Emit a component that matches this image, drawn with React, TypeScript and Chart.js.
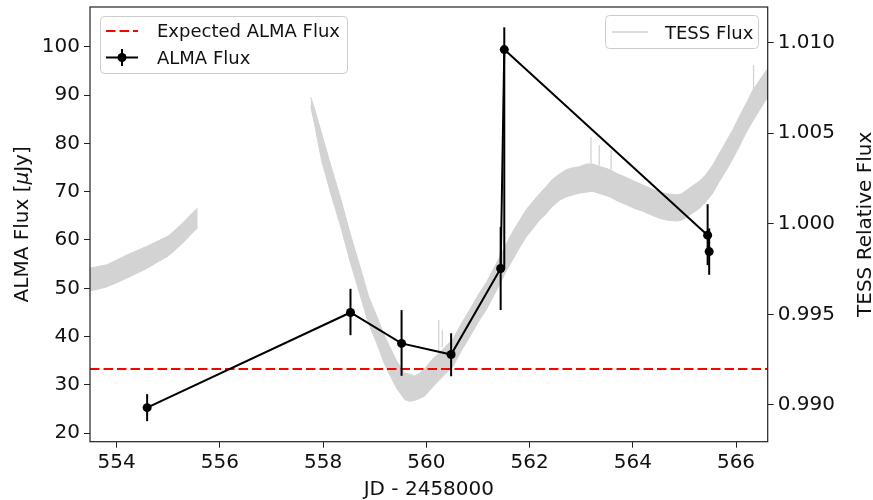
import React, { useEffect, useRef } from 'react';
import { Chart, registerables } from 'chart.js';

Chart.register(...registerables);

// ---------- data ----------
const xRange = [553.483, 566.614];
const leftRange = [18.26, 108.215];
const rightRange = [0.98797, 1.01197];

const xTicks = [554, 556, 558, 560, 562, 564, 566];
const leftTicks = [20, 30, 40, 50, 60, 70, 80, 90, 100];
const rightTicks = [0.99, 0.995, 1.0, 1.005, 1.01];

const almaJD = [554.59, 558.53, 559.52, 560.48, 561.44, 561.51, 565.45, 565.48];
const almaFlux = [25.3, 45.0, 38.6, 36.3, 54.1, 99.4, 61.0, 57.6];
const almaErrLow = [2.8, 4.7, 6.7, 4.5, 8.6, 45.3, 6.2, 4.8];
const almaErrHigh = [2.8, 4.9, 6.9, 4.4, 8.6, 4.6, 6.4, 4.8];

const expectedFlux = 33.3;

const tess1JD = [553.40, 553.48, 553.65, 553.80, 554.00, 554.20, 554.40, 554.60, 554.80, 555.00, 555.15, 555.30, 555.45, 555.57];
const tess1Low = [0.99625, 0.99630, 0.99640, 0.99651, 0.99675, 0.99701, 0.99728, 0.99756, 0.99790, 0.99822, 0.99860, 0.99900, 0.99945, 0.99977];
const tess1High = [0.99750, 0.99755, 0.99765, 0.99773, 0.99800, 0.99828, 0.99853, 0.99878, 0.99905, 0.99933, 0.99970, 1.00010, 1.00055, 1.00087];

const tess2JD = [557.76, 557.84, 557.97, 558.15, 558.34, 558.52, 558.71, 558.88, 559.04, 559.19, 559.31, 559.43, 559.58, 559.68, 559.77, 559.87, 559.97, 560.11, 560.26, 560.38, 560.51, 560.67, 560.84, 561.00, 561.17, 561.29, 561.42, 561.54, 561.67, 561.80, 561.94, 562.07, 562.19, 562.32, 562.44, 562.58, 562.72, 562.85, 562.97, 563.10, 563.22, 563.38, 563.55, 563.71, 563.88, 564.03, 564.19, 564.35, 564.52, 564.68, 564.84, 564.94, 565.04, 565.16, 565.29, 565.41, 565.54, 565.68, 565.81, 565.94, 566.06, 566.19, 566.32, 566.45, 566.57, 566.70];
const tess2Low = [1.00650, 1.00540, 1.00350, 1.00165, 0.99985, 0.99795, 0.99612, 0.99450, 0.99340, 0.99225, 0.99155, 0.99090, 0.99030, 0.99020, 0.99025, 0.99035, 0.99050, 0.99095, 0.99140, 0.99175, 0.99210, 0.99295, 0.99375, 0.99455, 0.99530, 0.99595, 0.99665, 0.99735, 0.99800, 0.99865, 0.99930, 0.99975, 1.00020, 1.00055, 1.00095, 1.00130, 1.00150, 1.00160, 1.00170, 1.00175, 1.00180, 1.00165, 1.00150, 1.00125, 1.00105, 1.00085, 1.00070, 1.00050, 1.00030, 1.00020, 1.00015, 1.00020, 1.00035, 1.00060, 1.00085, 1.00120, 1.00165, 1.00235, 1.00295, 1.00360, 1.00425, 1.00500, 1.00565, 1.00625, 1.00680, 1.00730];
const tess2High = [1.00700, 1.00630, 1.00500, 1.00320, 1.00140, 0.99950, 0.99768, 0.99600, 0.99490, 0.99380, 0.99310, 0.99240, 0.99175, 0.99170, 0.99160, 0.99175, 0.99200, 0.99250, 0.99290, 0.99325, 0.99360, 0.99445, 0.99525, 0.99605, 0.99680, 0.99745, 0.99815, 0.99885, 0.99955, 1.00015, 1.00080, 1.00125, 1.00165, 1.00205, 1.00245, 1.00275, 1.00300, 1.00310, 1.00315, 1.00330, 1.00330, 1.00315, 1.00300, 1.00275, 1.00255, 1.00235, 1.00215, 1.00195, 1.00175, 1.00165, 1.00160, 1.00165, 1.00185, 1.00210, 1.00235, 1.00270, 1.00320, 1.00390, 1.00455, 1.00520, 1.00590, 1.00660, 1.00735, 1.00790, 1.00840, 1.00890];

const spikeJD = [560.24, 560.31, 563.19, 563.35, 563.58, 566.34];
const spikeBase = [0.9930, 0.9932, 1.0032, 1.0032, 1.0030, 1.0072];
const spikeTop = [0.99469, 0.99414, 1.00479, 1.00435, 1.00407, 1.00877];

const FONT = "'DejaVu Sans', sans-serif";
const GRAY = '#d3d3d3';
const AXIS = '#222222';

function pts(xs: number[], ys: number[]) {
  return xs.map((x, i) => ({ x, y: ys[i] }));
}

const customPlugin = {
  id: 'custom',
  afterDatasetsDraw(chart: any) {
    const { ctx, scales } = chart;
    const x = scales.x;
    const y = scales.y;
    ctx.save();
    ctx.strokeStyle = '#000';
    ctx.lineWidth = 2;
    almaJD.forEach((jd, i) => {
      const px = x.getPixelForValue(jd);
      ctx.beginPath();
      ctx.moveTo(px, y.getPixelForValue(almaFlux[i] + almaErrHigh[i]));
      ctx.lineTo(px, y.getPixelForValue(almaFlux[i] - almaErrLow[i]));
      ctx.stroke();
    });
    ctx.restore();
  },
  afterDraw(chart: any) {
    const { ctx, chartArea } = chart;
    const { left, right, top, bottom } = chartArea;
    ctx.save();
    // frame
    ctx.strokeStyle = AXIS;
    ctx.lineWidth = 1.2;
    ctx.strokeRect(left, top, right - left, bottom - top);

    // axis titles
    ctx.fillStyle = '#111';
    ctx.font = `20px ${FONT}`;
    ctx.textAlign = 'center';
    ctx.textBaseline = 'alphabetic';
    ctx.fillText('JD - 2458000', (left + right) / 2, 495);

    const cy = (top + bottom) / 2;
    ctx.save();
    ctx.translate(28, cy);
    ctx.rotate(-Math.PI / 2);
    const parts = [
      { t: 'ALMA Flux [', f: `20px ${FONT}` },
      { t: 'μ', f: `italic 20px ${FONT}` },
      { t: 'Jy]', f: `20px ${FONT}` },
    ];
    let total = 0;
    parts.forEach((p) => { ctx.font = p.f; total += ctx.measureText(p.t).width; });
    let cx = -total / 2;
    ctx.textAlign = 'left';
    parts.forEach((p) => { ctx.font = p.f; ctx.fillText(p.t, cx, 0); cx += ctx.measureText(p.t).width; });
    ctx.restore();

    ctx.save();
    ctx.translate(871, cy);
    ctx.rotate(-Math.PI / 2);
    ctx.font = `20px ${FONT}`;
    ctx.textAlign = 'center';
    ctx.fillText('TESS Relative Flux', 0, 0);
    ctx.restore();

    // legends
    const box = (bx: number, by: number, bw: number, bh: number) => {
      ctx.beginPath();
      (ctx as any).roundRect(bx, by, bw, bh, 4);
      ctx.fillStyle = 'rgba(255,255,255,0.8)';
      ctx.fill();
      ctx.strokeStyle = '#cccccc';
      ctx.lineWidth = 1;
      ctx.stroke();
    };
    box(100.5, 16.5, 247, 57);
    box(605.5, 15.5, 153, 33);

    ctx.font = `18px ${FONT}`;
    ctx.textAlign = 'left';
    ctx.textBaseline = 'alphabetic';
    ctx.strokeStyle = 'red';
    ctx.lineWidth = 2;
    ctx.setLineDash([9.5, 4]);
    ctx.beginPath();
    ctx.moveTo(106, 31);
    ctx.lineTo(138, 31);
    ctx.stroke();
    ctx.setLineDash([]);
    ctx.fillStyle = '#111';
    ctx.fillText('Expected ALMA Flux', 157, 37.4);
    ctx.strokeStyle = '#000';
    ctx.beginPath();
    ctx.moveTo(106, 57.5);
    ctx.lineTo(138, 57.5);
    ctx.moveTo(122, 49);
    ctx.lineTo(122, 66);
    ctx.stroke();
    ctx.beginPath();
    ctx.arc(122, 57.5, 4.5, 0, Math.PI * 2);
    ctx.fillStyle = '#000';
    ctx.fill();
    ctx.fillStyle = '#111';
    ctx.fillText('ALMA Flux', 157, 64.1);
    ctx.strokeStyle = GRAY;
    ctx.lineWidth = 1.5;
    ctx.beginPath();
    ctx.moveTo(612, 32);
    ctx.lineTo(648, 32);
    ctx.stroke();
    ctx.fillStyle = '#111';
    ctx.fillText('TESS Flux', 665, 38.8);
    ctx.restore();
  },
};

export default function App() {
  const ref = useRef<HTMLCanvasElement | null>(null);

  useEffect(() => {
    const canvas = ref.current;
    if (!canvas) return;
    Chart.defaults.font.family = FONT;

    const spikeData: any[] = [];
    spikeJD.forEach((jd, i) => {
      spikeData.push({ x: jd, y: spikeBase[i] });
      spikeData.push({ x: jd, y: spikeTop[i] });
      spikeData.push({ x: jd, y: null });
    });

    const tessCommon = {
      yAxisID: 'y1',
      borderColor: GRAY,
      backgroundColor: GRAY,
      borderWidth: 1,
      pointRadius: 0,
      order: 5,
    };

    const noPad = (s: any) => {
      s.paddingTop = 0;
      s.paddingBottom = 0;
      s.paddingLeft = 0;
      s.paddingRight = 0;
    };

    const chart = new Chart(canvas, {
      type: 'line',
      data: {
        datasets: [
          { ...tessCommon, label: 'TESS Flux', data: pts(tess1JD, tess1Low), fill: false },
          { ...tessCommon, label: 'TESS hi 1', data: pts(tess1JD, tess1High), fill: '-1' },
          { ...tessCommon, label: 'TESS lo 2', data: pts(tess2JD, tess2Low), fill: false },
          { ...tessCommon, label: 'TESS hi 2', data: pts(tess2JD, tess2High), fill: '-1' },
          { ...tessCommon, label: 'spikes', data: spikeData, fill: false, spanGaps: false, borderWidth: 1.3 },
          {
            label: 'Expected ALMA Flux',
            yAxisID: 'y',
            data: [{ x: xRange[0], y: expectedFlux }, { x: xRange[1], y: expectedFlux }],
            borderColor: 'red',
            borderWidth: 2,
            borderDash: [9.5, 4],
            pointRadius: 0,
            fill: false,
            order: 2,
          },
          {
            label: 'ALMA Flux',
            yAxisID: 'y',
            data: pts(almaJD, almaFlux),
            borderColor: '#000',
            borderWidth: 2,
            pointRadius: 4.5,
            pointBackgroundColor: '#000',
            pointBorderWidth: 0,
            fill: false,
            order: 1,
          },
        ] as any,
      },
      options: {
        animation: false,
        responsive: false,
        layout: { padding: { top: 7, left: 0, right: 0, bottom: 0 } },
        plugins: {
          legend: { display: false },
          tooltip: { enabled: false },
        },
        scales: {
          x: {
            type: 'linear',
            min: xRange[0],
            max: xRange[1],
            afterBuildTicks: (s: any) => { s.ticks = xTicks.map((v) => ({ value: v })); },
            afterFit: (s: any) => { s.height = 58.3; noPad(s); },
            grid: { drawOnChartArea: false, drawTicks: true, tickLength: 6, color: AXIS, lineWidth: 1 },
            border: { display: false },
            ticks: { font: { size: 20, family: FONT }, color: '#111', padding: 3, maxRotation: 0, autoSkip: false, callback: (v: any) => String(v) },
          },
          y: {
            type: 'linear',
            position: 'left',
            min: leftRange[0],
            max: leftRange[1],
            afterBuildTicks: (s: any) => { s.ticks = leftTicks.map((v) => ({ value: v })); },
            afterFit: (s: any) => { s.width = 90; noPad(s); },
            grid: { drawOnChartArea: false, drawTicks: true, tickLength: 6, color: AXIS, lineWidth: 1 },
            border: { display: false },
            ticks: { font: { size: 20, family: FONT }, color: '#111', padding: 4, autoSkip: false, callback: (v: any) => String(v) },
          },
          y1: {
            type: 'linear',
            position: 'right',
            min: rightRange[0],
            max: rightRange[1],
            afterBuildTicks: (s: any) => { s.ticks = rightTicks.map((v) => ({ value: v })); },
            afterFit: (s: any) => { s.width = 105.3; noPad(s); },
            grid: { drawOnChartArea: false, drawTicks: true, tickLength: 6, color: AXIS, lineWidth: 1 },
            border: { display: false },
            ticks: { font: { size: 20, family: FONT }, color: '#111', padding: 4, autoSkip: false, callback: (v: any) => Number(v).toFixed(3) },
          },
        },
      } as any,
      plugins: [customPlugin],
    });

    return () => chart.destroy();
  }, []);

  return (
    <div style={{ position: 'absolute', left: 0, top: 0, width: 873, height: 500, background: '#fff' }}>
      <canvas ref={ref} width={873} height={500} style={{ display: 'block', width: 873, height: 500 }} />
    </div>
  );
}
